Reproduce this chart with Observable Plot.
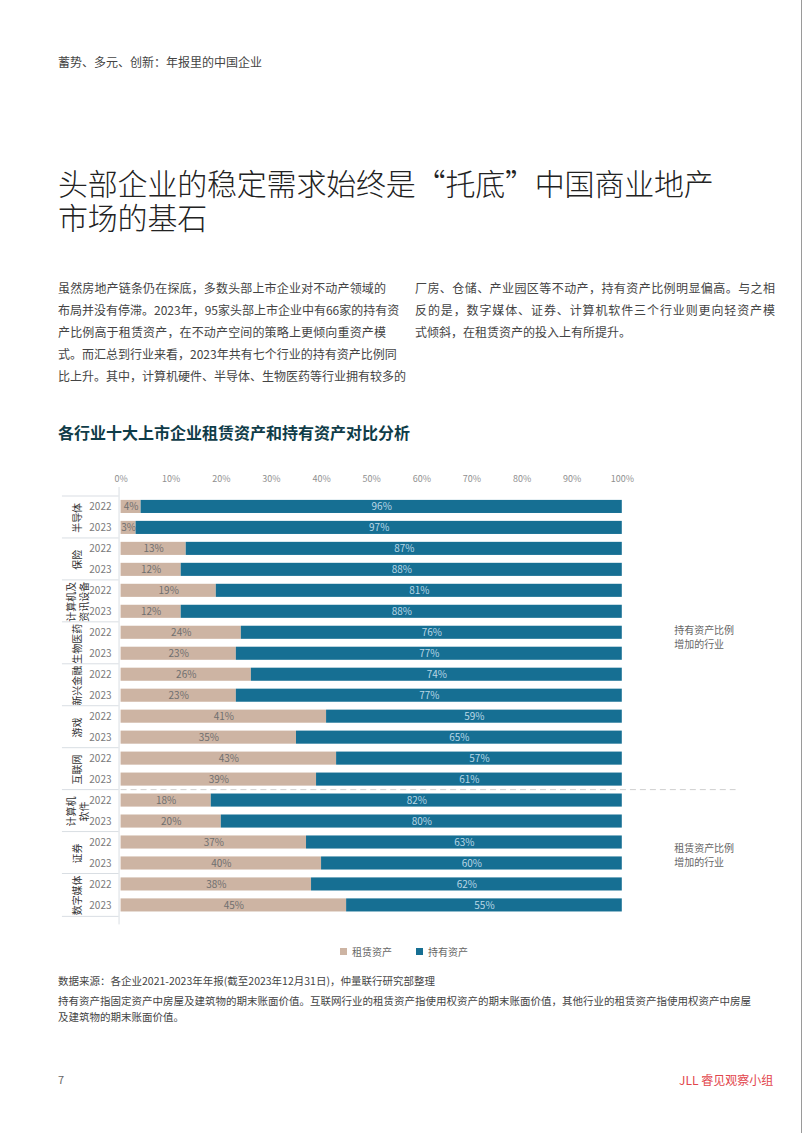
<!DOCTYPE html>
<html lang="zh-CN">
<head>
<meta charset="utf-8">
<script src="https://cdn.jsdelivr.net/npm/d3@7"></script>
<script src="https://cdn.jsdelivr.net/npm/@observablehq/plot@0.6"></script>
<style>
  body { margin: 0; background: #fff; font-family: "Noto Sans CJK SC", "Noto Sans", sans-serif; }
  #page { position: relative; width: 801px; height: 1133px; overflow: hidden; background: #fff; border-right: 1px solid #9a9a9a; }
  .abs { position: absolute; }
  #header { left: 58px; top: 53px; font-size: 12px; color: #444; line-height: 18px; }
  .tline { left: 58px; font-size: 30px; font-weight: 300; color: #222; line-height: 32px; letter-spacing: -0.2px; white-space: nowrap; }
  #t1 { top: 166px; }
  #t2 { top: 200px; }
  .para { font-size: 12px; color: #444; line-height: 22px; }
  .para div { text-align: justify; text-align-last: justify; white-space: nowrap; }
  .para div.last { text-align-last: left; }
  #pl { left: 58px; top: 277px; width: 328px; }
  #pr { left: 415px; top: 277px; width: 360px; }
  #ctitle { left: 58px; top: 421px; font-size: 16px; font-weight: 700; color: #0f3c48; line-height: 22px; }
  #chart { left: 0; top: 455px; }
  #legend { left: 0; top: 935px; width: 802px; display: flex; justify-content: center; padding-left: 30px; box-sizing: border-box; }
  #legend span[class*="swatch"] { margin-right: 24px !important; }
  .foot { left: 58px; font-size: 10.5px; color: #444; line-height: 16px; white-space: nowrap; }
  #src { top: 973px; }
  #note { top: 993px; }
  #pnum { left: 58px; top: 1071px; font-size: 11px; color: #666; }
  #brand { left: 679px; top: 1071px; font-size: 12px; color: #e2454b; }
</style>
</head>
<body>
<div id="page">
  <div id="header" class="abs">蓄势、多元、创新：年报里的中国企业</div>
  <div id="t1" class="abs tline">头部企业的稳定需求始终是“托底”中国商业地产</div>
  <div id="t2" class="abs tline">市场的基石</div>
  <div id="pl" class="abs para">
    <div>虽然房地产链条仍在探底，多数头部上市企业对不动产领域的</div>
    <div>布局并没有停滞。2023年，95家头部上市企业中有66家的持有资</div>
    <div>产比例高于租赁资产，在不动产空间的策略上更倾向重资产模</div>
    <div>式。而汇总到行业来看，2023年共有七个行业的持有资产比例同</div>
    <div>比上升。其中，计算机硬件、半导体、生物医药等行业拥有较多的</div>
  </div>
  <div id="pr" class="abs para">
    <div>厂房、仓储、产业园区等不动产，持有资产比例明显偏高。与之相</div>
    <div>反的是，数字媒体、证券、计算机软件三个行业则更向轻资产模</div>
    <div class="last">式倾斜，在租赁资产的投入上有所提升。</div>
  </div>
  <div id="ctitle" class="abs">各行业十大上市企业租赁资产和持有资产对比分析</div>
  <div id="chart" class="abs"></div>
  <div id="legend" class="abs"></div>
  <div id="src" class="abs foot">数据来源：各企业2021-2023年年报(截至2023年12月31日)，仲量联行研究部整理</div>
  <div id="note" class="abs foot">持有资产指固定资产中房屋及建筑物的期末账面价值。互联网行业的租赁资产指使用权资产的期末账面价值，其他行业的租赁资产指使用权资产中房屋<br>及建筑物的期末账面价值。</div>
  <div id="pnum" class="abs">7</div>
  <div id="brand" class="abs">JLL 睿见观察小组</div>
</div>
<script>
// ---- data ----
const groups = ["半导体", "保险", "计算机及\n资讯设备", "生物医药", "新兴金融", "游戏", "互联网", "计算机\n软件", "证券", "数字媒体"];
const years = ["2022", "2023"];
const rent2022 = [4, 13, 19, 24, 26, 41, 43, 18, 37, 38];
const rent2023 = [3, 12, 12, 23, 23, 35, 39, 20, 40, 45];
const hold2022 = [96, 87, 81, 76, 74, 59, 57, 82, 63, 62];
const hold2023 = [97, 88, 88, 77, 77, 65, 61, 80, 60, 55];
const types = ["租赁资产", "持有资产"];
const colors = ["#cdb4a3", "#166f93"];
const tickValues = [0, 10, 20, 30, 40, 50, 60, 70, 80, 90, 100];
const notes = [
  {text: "持有资产比例\n增加的行业", at: "生物医药|2022", dy: 4},
  {text: "租赁资产比例\n增加的行业", at: "证券|2022", dy: 12}
];

// ---- table ----
const rows = [];
groups.forEach((g, i) => {
  const r = [rent2022[i], rent2023[i]];
  const h = [hold2022[i], hold2023[i]];
  years.forEach((y, j) => {
    const key = g + "|" + y;
    rows.push({group: g, year: y, key, type: types[0], value: r[j]});
    rows.push({group: g, year: y, key, type: types[1], value: h[j]});
  });
});
const keys = Array.from(new Set(rows.map(d => d.key)));

const plotH = 438;
const step = plotH / keys.length;
const inset = (step - 14) / 2;
const xMin = -11.7, xMax = 123;
const font = "'Noto Sans CJK SC', 'Noto Sans', sans-serif";

const chart = Plot.plot({
  width: 802,
  height: 32 + plotH + 10,
  marginLeft: 62,
  marginRight: 64,
  marginTop: 32,
  marginBottom: 10,
  style: {fontFamily: font, fontSize: "10px", background: "transparent"},
  x: {domain: [xMin, xMax], axis: null},
  y: {domain: keys, axis: null, padding: 0},
  color: {domain: types, range: colors},
  marks: [
    // top tick labels
    Plot.text(tickValues, {x: d => d, text: d => d + "%", frameAnchor: "top", textAnchor: "middle", dy: -12, fill: "#8f8f8f", fontSize: 9}),
    // left separators
    Plot.ruleY(groups, {y: g => g + "|2022", dy: -step / 2, x1: xMin, x2: -0.4, stroke: "#d9dee3"}),
    Plot.ruleY([groups[groups.length - 1]], {y: g => g + "|2023", dy: step / 2, x1: xMin, x2: -0.4, stroke: "#d9dee3"}),
    Plot.ruleX([0], {dx: -2, stroke: "#d9dee3"}),
    // dashed divider
    Plot.ruleY([groups[7]], {y: g => g + "|2022", dy: -step / 2, x1: 0, x2: 122.7, stroke: "#cfcfcf", strokeDasharray: "6,4"}),
    // bars
    Plot.barX(rows, Plot.stackX({y: "key", x: "value", fill: "type", insetTop: inset, insetBottom: inset})),
    Plot.text(rows, Plot.stackX({y: "key", x: "value", z: "type", text: d => d.type === types[0] ? d.value + "%" : null, fill: "#6f6f6f", fontSize: 10})),
    Plot.text(rows, Plot.stackX({y: "key", x: "value", z: "type", text: d => d.type === types[1] ? d.value + "%" : null, fill: "#b9d7e6", fontSize: 10})),
    // year labels
    Plot.text(rows.filter(d => d.type === types[0]), {y: "key", text: "year", frameAnchor: "left", textAnchor: "middle", dx: 38, fill: "#7a7a7a", fontSize: 10}),
    // group labels
    Plot.text(groups, {y: g => g + "|2022", text: g => g, dy: step / 2, frameAnchor: "left", textAnchor: "middle", dx: 15, rotate: -90, fill: "#333", fontSize: 10, lineHeight: 1.25}),
    // annotations
    ...notes.map(n => Plot.text([n], {x: 100, y: "at", text: "text", dx: 52, dy: n.dy, textAnchor: "start", fill: "#666", fontSize: 10, lineHeight: 1.35}))
  ]
});
document.getElementById("chart").appendChild(chart);

const legend = Plot.legend({
  color: {domain: types, range: colors},
  legend: "swatches",
  swatchSize: 7,
  style: {fontFamily: font, fontSize: "10px", color: "#666"}
});
document.getElementById("legend").appendChild(legend);
</script>
</body>
</html>
